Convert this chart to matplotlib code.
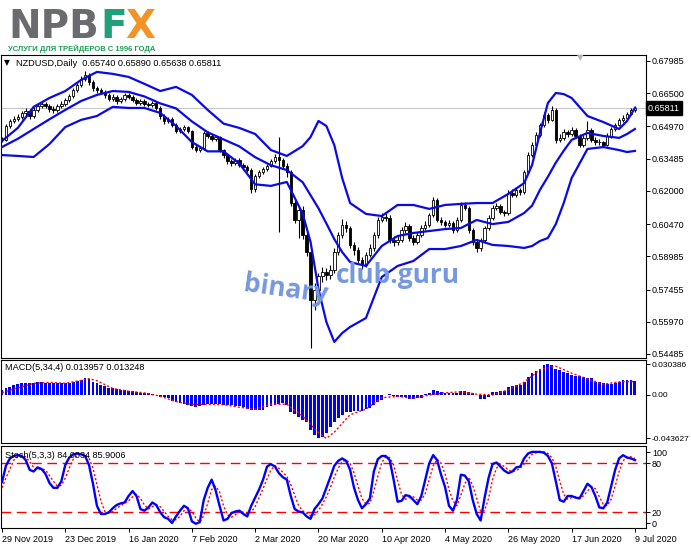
import numpy as np
import matplotlib
matplotlib.use("Agg")
import matplotlib.pyplot as plt
from matplotlib import font_manager

W, H = 691, 549
MT_FONT = ['Liberation Sans', 'DejaVu Sans']

# ---- chart data (prices in 1/10000) ----
symbol_title = 'NZDUSD,Daily  0.65740 0.65890 0.65638 0.65811'
macd_title = 'MACD(5,34,4) 0.013957 0.013248'
stoch_title = 'Stoch(5,3,3) 84.0034 85.9006'
last_price = 0.65811

opens = [
    6440, 6434, 6499, 6522, 6531, 6540, 6559, 6568, 6545, 6573,
    6591, 6600, 6591, 6577, 6573, 6591, 6600, 6619, 6637, 6665,
    6688, 6716, 6734, 6702, 6674, 6665, 6656, 6642, 6623, 6633,
    6614, 6623, 6642, 6633, 6619, 6605, 6614, 6600, 6596, 6605,
    6582, 6545, 6522, 6531, 6504, 6476, 6485, 6494, 6476, 6402,
    6388, 6397, 6466, 6453, 6439, 6448, 6388, 6365, 6338, 6328,
    6342, 6319, 6310, 6296, 6210, 6269, 6287, 6301, 6315, 6338,
    6356, 6342, 6315, 6287, 6144, 6066, 6112, 5997, 5918, 5697,
    5743, 5807, 5825, 5812, 5835, 5918, 5997, 6043, 6029, 5950,
    5928, 5882, 5858, 5904, 5937, 5997, 6066, 6080, 6075, 5974,
    5964, 5974, 6020, 6038, 5983, 5964, 5997, 6029, 6043, 6089,
    6158, 6066, 6057, 6043, 6052, 6020, 6066, 6135, 6121, 6020,
    5964, 5937, 5974, 6029, 6075, 6121, 6130, 6103, 6098, 6190,
    6181, 6204, 6195, 6287, 6365, 6411, 6457, 6503, 6550, 6527,
    6573, 6435, 6444, 6471, 6462, 6481, 6453, 6411, 6444, 6481,
    6435, 6425, 6425, 6411, 6453, 6485, 6504, 6527, 6536, 6554,
    6574]
highs = [
    6450, 6508, 6532, 6543, 6552, 6570, 6580, 6576, 6585, 6602,
    6612, 6610, 6598, 6590, 6600, 6612, 6628, 6648, 6675, 6698,
    6728, 6750, 6742, 6710, 6685, 6676, 6665, 6650, 6645, 6640,
    6632, 6652, 6650, 6640, 6628, 6625, 6622, 6610, 6615, 6612,
    6590, 6555, 6542, 6540, 6512, 6495, 6503, 6500, 6482, 6410,
    6408, 6475, 6474, 6460, 6458, 6455, 6395, 6372, 6345, 6352,
    6350, 6328, 6318, 6305, 6278, 6296, 6312, 6325, 6348, 6372,
    6448, 6352, 6330, 6295, 6160, 6125, 6130, 6010, 5925, 5775,
    5820, 5850, 5845, 5860, 5935, 6010, 6070, 6062, 6040, 5965,
    5940, 5895, 5918, 5955, 6012, 6080, 6100, 6098, 6090, 5990,
    5995, 6035, 6055, 6048, 5998, 6010, 6045, 6060, 6100, 6172,
    6165, 6078, 6068, 6065, 6062, 6078, 6148, 6150, 6130, 6030,
    5975, 5985, 6040, 6088, 6135, 6142, 6140, 6112, 6202, 6210,
    6218, 6215, 6298, 6378, 6425, 6470, 6515, 6565, 6560, 6590,
    6580, 6460, 6485, 6480, 6495, 6490, 6462, 6458, 6520, 6490,
    6448, 6438, 6432, 6465, 6495, 6515, 6538, 6548, 6565, 6582,
    6589]
lows = [
    6425, 6430, 6490, 6512, 6522, 6532, 6550, 6532, 6538, 6565,
    6582, 6580, 6563, 6560, 6565, 6583, 6592, 6610, 6630, 6655,
    6680, 6705, 6690, 6662, 6652, 6645, 6630, 6612, 6615, 6600,
    6605, 6615, 6622, 6608, 6595, 6597, 6590, 6585, 6588, 6572,
    6532, 6510, 6512, 6495, 6465, 6468, 6478, 6465, 6392, 6378,
    6380, 6390, 6442, 6430, 6430, 6380, 6352, 6326, 6315, 6318,
    6308, 6298, 6285, 6190, 6195, 6260, 6278, 6292, 6308, 6328,
    6011, 6300, 6265, 6130, 6050, 5983, 5980, 5900, 5476, 5650,
    5700, 5780, 5790, 5795, 5820, 5905, 5985, 6010, 5935, 5905,
    5868, 5840, 5850, 5895, 5925, 5985, 6055, 6060, 5960, 5945,
    5950, 5965, 6008, 5970, 5950, 5955, 5988, 6018, 6035, 6080,
    6055, 6045, 6032, 6035, 6008, 6012, 6058, 6110, 6008, 5952,
    5920, 5925, 5965, 6018, 6065, 6110, 6092, 6085, 6090, 6170,
    6172, 6180, 6185, 6278, 6355, 6400, 6448, 6495, 6515, 6520,
    6420, 6425, 6435, 6450, 6452, 6442, 6400, 6402, 6435, 6425,
    6412, 6412, 6400, 6405, 6445, 6478, 6498, 6518, 6528, 6548,
    6564]
closes = [
    6434, 6499, 6522, 6531, 6540, 6559, 6568, 6545, 6573, 6591,
    6600, 6591, 6577, 6573, 6591, 6600, 6619, 6637, 6665, 6688,
    6716, 6734, 6702, 6674, 6665, 6656, 6642, 6623, 6633, 6614,
    6623, 6642, 6633, 6619, 6605, 6614, 6600, 6596, 6605, 6582,
    6545, 6522, 6531, 6504, 6476, 6485, 6494, 6476, 6402, 6388,
    6397, 6466, 6453, 6439, 6448, 6388, 6365, 6338, 6328, 6342,
    6319, 6310, 6296, 6210, 6269, 6287, 6301, 6315, 6338, 6356,
    6342, 6315, 6287, 6144, 6066, 6112, 5997, 5918, 5697, 5743,
    5807, 5825, 5812, 5835, 5918, 5997, 6043, 6029, 5950, 5928,
    5882, 5858, 5904, 5937, 5997, 6066, 6080, 6075, 5974, 5964,
    5974, 6020, 6038, 5983, 5964, 5997, 6029, 6043, 6089, 6158,
    6066, 6057, 6043, 6052, 6020, 6066, 6135, 6121, 6020, 5964,
    5937, 5974, 6029, 6075, 6121, 6130, 6103, 6098, 6190, 6181,
    6204, 6195, 6287, 6365, 6411, 6457, 6503, 6550, 6527, 6573,
    6435, 6444, 6471, 6462, 6481, 6453, 6411, 6444, 6481, 6435,
    6425, 6425, 6411, 6453, 6485, 6504, 6527, 6536, 6554, 6574,
    6581]

# Bollinger bands at these bars
band_bars = [0, 4, 8, 12, 16, 20, 24, 28, 32, 36, 40, 44, 48, 52, 56, 60, 64, 68, 72,
             76, 78, 80, 82, 84, 86, 88,
             92, 96, 100, 104, 108, 112, 116, 120, 124, 128, 132,
             134, 136, 138, 140, 142, 144,
             148, 152, 156, 158, 160]
bb_upper = [6430, 6490, 6587, 6628, 6660, 6711, 6748, 6739, 6725, 6693, 6660, 6679, 6642, 6573, 6510, 6490, 6462, 6388, 6361,
            6406, 6448, 6522, 6499, 6411, 6259, 6144,
            6094, 6084, 6135, 6135, 6117, 6135, 6140, 6144, 6144, 6186, 6236,
            6319, 6467, 6605, 6651, 6646, 6628,
            6545, 6517, 6485, 6522, 6582]
bb_middle = [6402, 6440, 6485, 6530, 6573, 6614, 6642, 6660, 6656, 6635, 6603, 6580, 6520, 6470, 6437, 6405, 6355, 6318, 6296,
             6240, 6180, 6120, 6050, 5978, 5918, 5872,
             5854, 5946, 5992, 6006, 6015, 6024, 6029, 6066, 6047, 6057, 6098,
             6132, 6205, 6265, 6330, 6385, 6435,
             6467, 6453, 6444, 6462, 6485]
bb_lower = [6365, 6361, 6356, 6416, 6494, 6527, 6545, 6587, 6582, 6582, 6559, 6499, 6425, 6382, 6382, 6326, 6230, 6223, 6241,
            6095, 5965, 5748, 5596, 5504, 5545, 5573,
            5614, 5803, 5854, 5877, 5932, 5932, 5946, 5974, 5951, 5946, 5937,
            5946, 5969, 5983, 6047, 6144, 6259,
            6393, 6402, 6388, 6379, 6384]

macd_hist = [
    0.0047, 0.0065, 0.0078, 0.0095, 0.0110, 0.0118, 0.0120, 0.0120, 0.0122, 0.0123,
    0.0123, 0.0120, 0.0117, 0.0115, 0.0115, 0.0115, 0.0117, 0.0120, 0.0130, 0.0142,
    0.0150, 0.0163, 0.0155, 0.0130, 0.0113, 0.0095, 0.0085, 0.0072, 0.0068, 0.0057,
    0.0048, 0.0045, 0.0038, 0.0035, 0.0030, 0.0022, 0.0018, 0.0014, 0.0012, -0.0003,
    -0.0018, -0.0022, -0.0037, -0.0065, -0.0072, -0.0085, -0.0088, -0.0103, -0.0112, -0.0120,
    -0.0115, -0.0098, -0.0095, -0.0093, -0.0094, -0.0096, -0.0098, -0.0100, -0.0102, -0.0110,
    -0.0113, -0.0118, -0.0145, -0.0152, -0.0150, -0.0150, -0.0148, -0.0125, -0.0112, -0.0105,
    -0.0090, -0.0087, -0.0103, -0.0175, -0.0190, -0.0220, -0.0255, -0.0275, -0.0353, -0.0403,
    -0.0436, -0.0420, -0.0387, -0.0320, -0.0275, -0.0235, -0.0205, -0.0172, -0.0170, -0.0165,
    -0.0160, -0.0158, -0.0146, -0.0135, -0.0103, -0.0070, -0.0050, -0.0005, 0.0010, -0.0013,
    -0.0018, -0.0020, -0.0022, -0.0047, -0.0045, -0.0030, -0.0028, 0.0005, 0.0020, 0.0047,
    0.0042, 0.0030, 0.0018, 0.0015, 0.0014, 0.0020, 0.0037, 0.0035, 0.0027, 0.0020,
    -0.0003, -0.0043, -0.0040, -0.0020, 0.0030, 0.0032, 0.0040, 0.0042, 0.0080, 0.0085,
    0.0097, 0.0100, 0.0130, 0.0180, 0.0213, 0.0240, 0.0260, 0.0300, 0.0304, 0.0300,
    0.0260, 0.0245, 0.0230, 0.0215, 0.0200, 0.0192, 0.0185, 0.0178, 0.0172, 0.0165,
    0.0130, 0.0125, 0.0118, 0.0110, 0.0112, 0.0118, 0.0130, 0.0145, 0.0150, 0.0150,
    0.0140]
signal_bars = [0, 4, 8, 12, 16, 20, 22, 24, 28, 32, 36, 40, 44, 48, 52, 56, 60, 64, 68, 72, 76, 80,
               82, 84, 88, 92, 96, 100, 104, 108, 112, 116, 120, 124, 128, 132, 136, 140, 144,
               148, 152, 156, 160]
macd_signal = [0.0020, 0.0068, 0.0113, 0.0123, 0.0114, 0.0143, 0.0160, 0.0140, 0.0062, 0.0035,
               0.0018, -0.0015, -0.0068, -0.0098, -0.0097, -0.0100, -0.0125, -0.0146, -0.0095,
               -0.0095, -0.0215, -0.0380, -0.0437, -0.0375, -0.0200, -0.0145, -0.0030, -0.0018,
               -0.0035, -0.0003, 0.0018, 0.0030, 0.0005, -0.0003, 0.0050, 0.0125, 0.0250, 0.0285,
               0.0215, 0.0158, 0.0105, 0.0128, 0.0132]

stoch_k = [
    57, 77, 86, 89, 90, 89, 84, 72, 70, 75,
    73, 67, 56, 50, 50, 58, 78, 87, 91, 92,
    91, 89, 78, 55, 28, 18, 18, 20, 25, 29,
    31, 32, 40, 46, 40, 24, 22, 26, 32, 29,
    20, 14, 12, 7, 15, 22, 28, 25, 9, 6,
    8, 35, 50, 60, 47, 28, 10, 12, 19, 21,
    22, 18, 15, 28, 38, 48, 60, 76, 79, 76,
    68, 63, 60, 40, 24, 21, 20, 15, 12, 24,
    30, 37, 50, 63, 77, 83, 86, 83, 72, 50,
    35, 25, 30, 37, 70, 85, 89, 89, 84, 60,
    33, 34, 41, 40, 35, 30, 40, 60, 80, 90,
    84, 66, 51, 28, 22, 35, 66, 65, 58, 35,
    18, 10, 38, 62, 79, 81, 76, 71, 68, 70,
    75, 76, 86, 92, 94, 94, 94, 93, 89, 80,
    58, 35, 33, 40, 40, 38, 37, 46, 55, 51,
    40, 26, 25, 32, 52, 72, 86, 90, 87, 86,
    84.0]
stoch_d = [
    50, 62, 73, 84, 88, 89, 88, 82, 75, 72,
    73, 72, 65, 58, 52, 53, 62, 74, 85, 90,
    91, 91, 86, 74, 54, 34, 21, 19, 21, 25,
    28, 31, 34, 39, 42, 37, 29, 24, 27, 29,
    27, 21, 15, 11, 11, 15, 22, 25, 21, 13,
    8, 16, 31, 48, 52, 45, 28, 17, 14, 17,
    21, 20, 18, 20, 27, 38, 49, 61, 72, 77,
    74, 69, 64, 54, 41, 28, 22, 19, 16, 17,
    22, 30, 39, 50, 63, 74, 82, 84, 80, 68,
    52, 37, 30, 31, 46, 64, 81, 88, 87, 78,
    59, 42, 36, 38, 39, 35, 35, 43, 60, 77,
    85, 80, 67, 48, 34, 28, 41, 55, 63, 53,
    37, 21, 22, 37, 60, 74, 79, 76, 72, 70,
    71, 74, 79, 85, 91, 93, 94, 94, 92, 87,
    76, 58, 42, 36, 38, 39, 38, 40, 46, 51,
    49, 39, 30, 28, 36, 52, 70, 83, 88, 88,
    85.9]

price_ticks = [0.67985, 0.66500, 0.64970, 0.63485, 0.62000,
               0.60470, 0.58985, 0.57455, 0.55970, 0.54485]
macd_ticks = [0.030386, 0.0, -0.043627]
macd_tick_labels = ['0.030386', '0.00', '-0.043627']
stoch_levels = [20, 80]
date_labels = ['29 Nov 2019', '23 Dec 2019', '16 Jan 2020', '7 Feb 2020', '2 Mar 2020',
               '20 Mar 2020', '10 Apr 2020', '4 May 2020', '26 May 2020', '17 Jun 2020',
               '9 Jul 2020']

plt.rcParams['font.family'] = MT_FONT

fig = plt.figure(figsize=(W / 100, H / 100), dpi=100)


def fx(px):
    return px / W


def fy(py):
    return 1 - py / H


def add_panel(left, top, right, bottom):
    a = fig.add_axes([fx(left), fy(bottom), (right - left) / W, (bottom - top) / H])
    a.set_xlim(-0.25, 162.8)
    for s in a.spines.values():
        s.set_linewidth(0.8)
        s.set_color('black')
    a.yaxis.tick_right()
    a.tick_params(axis='y', direction='out', length=3, width=0.7, pad=1.2,
                  labelsize=6.5, colors='black')
    a.set_xticks([])
    return a


ax = add_panel(1, 55, 646, 358)
ax_macd = add_panel(1, 360, 646, 443)
ax_st = add_panel(1, 446, 646, 528)

# ---- price panel ----
x = np.arange(len(closes))
o = np.array(opens) / 1e4
hi = np.array(highs) / 1e4
lo = np.array(lows) / 1e4
c = np.array(closes) / 1e4
up = c >= o
body_lo = np.minimum(o, c)
body_h = np.maximum(np.abs(c - o), 0.00012)

ax.axhline(last_price, color='#c8c8c8', lw=0.8, zorder=1)
ax.vlines(x, lo, hi, color='black', lw=0.8, zorder=2)
ax.bar(x[up], body_h[up], bottom=body_lo[up], width=0.62, facecolor='white',
       edgecolor='black', linewidth=0.6, zorder=3)
ax.bar(x[~up], body_h[~up], bottom=body_lo[~up], width=0.62, facecolor='black',
       edgecolor='black', linewidth=0.6, zorder=3)

for band in (bb_upper, bb_middle, bb_lower):
    ax.plot(band_bars, np.array(band) / 1e4, color='#0a0ae6', lw=1.6, zorder=4)

ax.set_ylim(0.5430, 0.6826)
ax.set_yticks(price_ticks)
ax.set_yticklabels([f'{v:.5f}' for v in price_ticks])
ax.text(1.003, last_price, f'{last_price:.5f}', transform=ax.get_yaxis_transform(),
        ha='left', va='center', fontsize=6.5, color='white', zorder=10,
        bbox=dict(boxstyle='square,pad=0.25', fc='black', ec='black'), clip_on=False)

# watermark
wm_color = '#7598de'
fig.text(fx(243), fy(291), 'binary', fontsize=19, fontweight='bold', family=['Open Sans', 'DejaVu Sans'],
         color=wm_color, rotation=-8, rotation_mode='anchor', ha='left', va='baseline', zorder=20)
fig.text(fx(336), fy(283), 'club.guru', fontsize=19, fontweight='bold', family=['Open Sans', 'DejaVu Sans'],
         color=wm_color, rotation=0, rotation_mode='anchor', ha='left', va='baseline', zorder=20)

# ---- MACD panel ----
ax_macd.bar(x, macd_hist, width=0.72, color='#0000ff', zorder=2)
ax_macd.plot(signal_bars, macd_signal, color='#ff0000', lw=1.0, ls=(0, (1.5, 1.5)), zorder=3)
ax_macd.set_ylim(-0.0483, 0.0347)
ax_macd.set_yticks(macd_ticks)
ax_macd.set_yticklabels(macd_tick_labels)
ax_macd.tick_params(axis='y', labelsize=6.0, pad=1.0)

# ---- Stochastic panel ----
for lvl in stoch_levels:
    ax_st.axhline(lvl, color='#ff0000', lw=1.0, ls=(0, (7, 4)), zorder=1)
ax_st.plot(x, stoch_k, color='#0000ff', lw=1.7, zorder=3)
ax_st.plot(x, stoch_d, color='#ff0000', lw=1.0, ls=(0, (1.5, 1.5)), zorder=2)
ax_st.set_ylim(0.8, 101.2)
ax_st.set_yticks([6.9, 20, 80, 93.8])
ax_st.set_yticklabels(['0', '20', '80', '100'])
ax_st.set_xticks(np.arange(0, len(closes), 16))
ax_st.set_xticklabels(date_labels, ha='left')
ax_st.tick_params(axis='x', direction='out', length=3, width=0.7, pad=2,
                  labelsize=6.5, colors='black')

# ---- panel captions ----
fig.text(fx(4), fy(63), '\u25bc', fontsize=5.5, color='black', va='center', ha='left',
         family=['DejaVu Sans'])
fig.text(fx(16), fy(63), symbol_title, fontsize=6.6, color='black', va='center', ha='left')
fig.text(fx(5), fy(368), macd_title, fontsize=6.6, color='black', va='center', ha='left')
fig.text(fx(5), fy(455), stoch_title, fontsize=6.6, color='black', va='center', ha='left')
fig.text(fx(580), fy(58), '\u25bc', fontsize=6, color='#b4b4b4', va='center', ha='center',
         family=['DejaVu Sans'])

# ---- logo ----
logo_font = ['DejaVu Sans']
fig.text(fx(8), fy(38), 'NPB', fontsize=28, fontweight='bold', color='#6a6b6e',
         family=logo_font, va='baseline', ha='left')
fig.text(fx(100), fy(38), 'F', fontsize=28, fontweight='bold', color='#1fa07a',
         family=logo_font, va='baseline', ha='left')
fig.text(fx(125), fy(38), 'X', fontsize=28, fontweight='bold', color='#f39325',
         family=logo_font, va='baseline', ha='left')

installed = {f.name for f in font_manager.fontManager.ttflist}
if 'Liberation Sans Narrow' in installed:
    sub_font, sub_size = ['Liberation Sans Narrow', 'DejaVu Sans'], 6.6
else:
    sub_font, sub_size = ['Liberation Sans', 'DejaVu Sans'], 5.5
fig.text(fx(8), fy(51), 'УСЛУГИ ДЛЯ ТРЕЙДЕРОВ С 1996 ГОДА', fontsize=sub_size,
         fontweight='bold', color='#1f9e55', family=sub_font, va='baseline', ha='left')

fig.savefig('out.png', dpi=100)
